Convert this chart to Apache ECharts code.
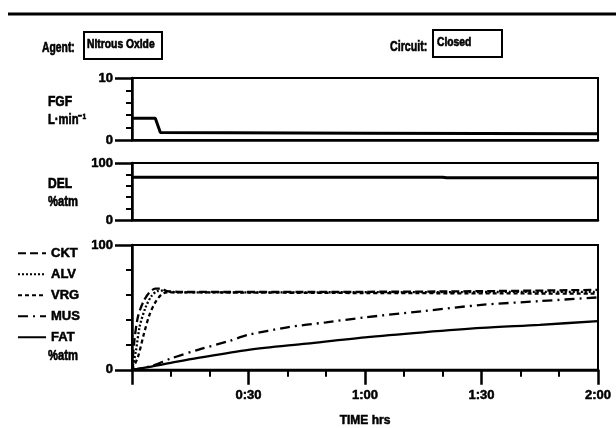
<!DOCTYPE html>
<html>
<head>
<meta charset="utf-8">
<script src="https://cdn.jsdelivr.net/npm/echarts@6/dist/echarts.min.js"></script>
<style>
  html, body { margin: 0; padding: 0; background: #fff; }
  #chart { width: 616px; height: 428px; }
</style>
</head>
<body>
<div id="chart"></div>
<script>
// time in minutes
var fgfTime = [0, 6, 7.3, 60, 120];
var fgfVal = [3.5, 3.5, 1.2, 1.1, 1.0];

var delTime = [0, 80, 81, 120];
var delVal = [75, 75, 74, 74];

var cktTime = [0, 0.5, 1.5, 3, 4.5, 6, 7.5, 9, 12, 60, 90, 120];
var cktVal = [0, 20, 42, 55, 62, 65, 65, 63, 62.5, 62.5, 63, 64];
var alvTime = [0, 1, 2, 3.5, 5, 6.5, 8, 10, 12, 120];
var alvVal = [0, 15, 35, 50, 59, 63, 63.5, 62.5, 62, 62.5];
var vrgTime = [0, 1.5, 3, 4.5, 6, 7.5, 9, 12, 60, 120];
var vrgVal = [0, 10, 28, 44, 54, 60, 62, 62, 61.5, 61];
var musTime = [0, 5, 10, 17, 25, 30, 40, 50, 60, 75, 90, 105, 120];
var musVal = [0, 3, 9, 16, 23, 28, 34, 38, 42, 47, 52, 55, 58];
var fatTime = [0, 5, 10, 17, 30, 45, 60, 75, 90, 105, 120];
var fatVal = [0, 2.5, 5.5, 9.5, 16, 21, 26, 30, 33.5, 36, 39];

var xTicks = [30, 60, 90, 120];

function pairs(t, v) {
  return t.map(function (x, i) { return [x, v[i]]; });
}

var FONT = "'Liberation Sans', Arial, sans-serif";
// the scan's lettering is heavy, a thin outline thickens it
var heavy = { color: '#000', fontFamily: FONT, fontWeight: 'bold', textBorderColor: '#000', textBorderWidth: 0.5 };

var chart = echarts.init(document.getElementById('chart'));

function yAxis(idx, max) {
  return {
    type: 'value', gridIndex: idx, min: 0, max: max, interval: max,
    axisLine: { show: true, lineStyle: { color: '#000', width: 2.5 } },
    axisTick: { show: true, length: 17, lineStyle: { color: '#000', width: 2.5 } },
    minorTick: { show: true, splitNumber: 5, length: 6, lineStyle: { color: '#000', width: 2 } },
    splitLine: { show: false },
    axisLabel: Object.assign({ margin: 19, fontSize: 13 }, heavy)
  };
}

function xAxisPlain(idx) {
  return {
    type: 'value', gridIndex: idx, min: 0, max: 120,
    axisLine: { show: true, lineStyle: { color: '#000', width: 2.5 } },
    axisTick: { show: false }, axisLabel: { show: false }, splitLine: { show: false }
  };
}

function lineSeries(name, t, v, type, xi, yi) {
  return {
    name: name, type: 'line', xAxisIndex: xi, yAxisIndex: yi,
    data: pairs(t, v), symbol: 'none', smooth: 0.3,
    lineStyle: { color: '#000', width: 2.3, type: type }
  };
}

// narrow bold text, the original uses a condensed face
function label(x, y, text, size, sx) {
  return {
    type: 'text', x: x, y: y, scaleX: sx || 0.85,
    style: {
      text: text, fill: '#000', stroke: '#000', lineWidth: 0.6,
      font: 'bold ' + (size || 13) + 'px ' + FONT, textVerticalAlign: 'middle'
    }
  };
}

var gridBox = { show: true, borderColor: '#000', borderWidth: 2, left: 132, right: 18 };

var option = {
  animation: false,
  backgroundColor: '#fff',
  grid: [
    Object.assign({ top: 78, height: 62 }, gridBox),
    Object.assign({ top: 163, height: 57 }, gridBox),
    Object.assign({ top: 245, height: 125 }, gridBox)
  ],
  xAxis: [
    xAxisPlain(0),
    xAxisPlain(1),
    {
      type: 'value', gridIndex: 2, min: 0, max: 120, interval: 30,
      name: 'TIME hrs', nameLocation: 'middle', nameGap: 45,
      nameTextStyle: Object.assign({ fontSize: 12 }, heavy),
      axisLine: { show: true, lineStyle: { color: '#000', width: 2.5 } },
      axisTick: { show: true, length: 15, lineStyle: { color: '#000', width: 2.5 } },
      minorTick: { show: true, splitNumber: 3, length: 7, lineStyle: { color: '#000', width: 2 } },
      splitLine: { show: false },
      axisLabel: Object.assign({
        margin: 19, fontSize: 13,
        formatter: function (m) {
          if (xTicks.indexOf(m) < 0) return '';
          var h = Math.floor(m / 60), mm = m % 60;
          return h + ':' + (mm < 10 ? '0' : '') + mm;
        }
      }, heavy)
    }
  ],
  yAxis: [yAxis(0, 10), yAxis(1, 100), yAxis(2, 100)],
  legend: {
    orient: 'vertical', left: 17, top: 246.5, padding: 0,
    itemWidth: 28, itemHeight: 12, itemGap: 7.5, itemStyle: { opacity: 0 },
    textStyle: Object.assign({ fontSize: 13 }, heavy),
    data: ['CKT', 'ALV', 'VRG', 'MUS', 'FAT']
  },
  series: [
    Object.assign(lineSeries('FGF', fgfTime, fgfVal, 'solid', 0, 0), { smooth: false, lineStyle: { color: '#000', width: 3 } }),
    Object.assign(lineSeries('DEL', delTime, delVal, 'solid', 1, 1), { smooth: false, lineStyle: { color: '#000', width: 3 } }),
    lineSeries('CKT', cktTime, cktVal, [8, 4], 2, 2),
    lineSeries('ALV', alvTime, alvVal, [2, 2], 2, 2),
    lineSeries('VRG', vrgTime, vrgVal, [4, 3], 2, 2),
    lineSeries('MUS', musTime, musVal, [10, 5, 2, 5], 2, 2),
    lineSeries('FAT', fatTime, fatVal, 'solid', 2, 2)
  ],
  graphic: [
    { type: 'line', shape: { x1: 8, y1: 14, x2: 616, y2: 14 }, style: { stroke: '#000', lineWidth: 3 } },
    label(42, 48, 'Agent:', 14, 0.74),
    { type: 'rect', shape: { x: 84, y: 32, width: 78, height: 27 }, style: { fill: '#fff', stroke: '#000', lineWidth: 2 } },
    label(87, 45, 'Nitrous Oxide', 12, 0.86),
    label(390, 47, 'Circuit:', 14, 0.76),
    { type: 'rect', shape: { x: 433, y: 30, width: 69, height: 27 }, style: { fill: '#fff', stroke: '#000', lineWidth: 2 } },
    label(437, 43, 'Closed', 12, 0.86),
    label(48, 102, 'FGF', 14, 0.86),
    label(48, 120, 'L·min\u207B\u00B9', 14, 0.8),
    label(48, 184, 'DEL', 14, 0.86),
    label(48, 202, '%atm', 14, 0.8),
    label(48, 356, '%atm', 14, 0.8)
  ]
};

chart.setOption(option);
</script>
</body>
</html>
